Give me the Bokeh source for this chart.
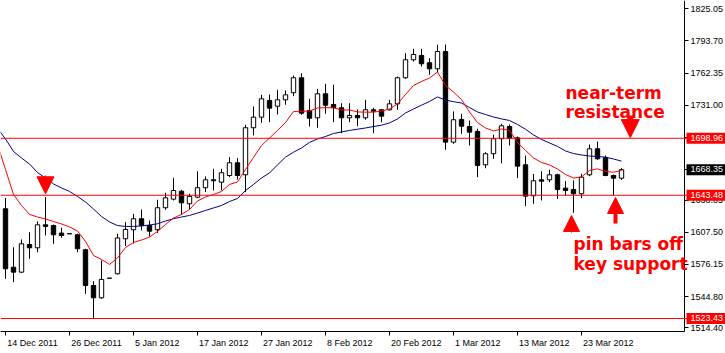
from bokeh.plotting import figure
from bokeh.models import (Range1d, FixedTicker, Span, Label, Arrow, NormalHead,
                          ColumnDataSource, NumeralTickFormatter, LinearAxis)
from bokeh.embed import file_html
from bokeh.resources import INLINE

# ---- data (gold daily, 14 Dec 2011 .. 30 Mar 2012), bar index 0..77 ----
opens = [1630.3, 1573.4, 1568.6, 1595.5, 1592.3, 1614.7, 1614.0, 1606.6, 1606.0, 1605.0,
         1590.4, 1555.6, 1543.6, 1562.7, 1567.0, 1601.1, 1609.9, 1620.6, 1614.0, 1609.9,
         1631.3, 1639.7, 1647.4, 1635.2, 1641.6, 1650.8, 1658.5, 1656.2, 1662.7, 1675.1,
         1663.4, 1709.2, 1719.5, 1735.8, 1730.2, 1736.4, 1743.3, 1757.9, 1726.0, 1718.9,
         1742.3, 1731.9, 1728.7, 1718.9, 1721.2, 1718.9, 1726.7, 1726.7, 1726.7, 1732.5,
         1757.9, 1775.4, 1779.6, 1772.5, 1766.6, 1783.5, 1695.2, 1717.3, 1710.4, 1705.6,
         1673.1, 1683.9, 1698.5, 1710.4, 1699.4, 1673.1, 1643.0, 1658.5, 1658.5, 1663.4,
         1650.4, 1649.1, 1644.9, 1663.4, 1688.7, 1680.1, 1662.7, 1660.1]
highs = [1640.8, 1592.9, 1600.4, 1607.5, 1617.9, 1641.6, 1615.0, 1611.8, 1606.0, 1606.0,
         1591.4, 1559.8, 1580.0, 1562.7, 1606.0, 1617.3, 1625.4, 1629.6, 1618.9, 1639.1,
         1645.9, 1660.5, 1648.8, 1644.9, 1666.9, 1661.8, 1669.2, 1669.2, 1680.6, 1679.6,
         1712.1, 1729.9, 1741.3, 1741.6, 1746.2, 1745.5, 1760.1, 1762.3, 1737.4, 1747.1,
         1752.0, 1751.0, 1733.1, 1733.1, 1727.0, 1736.4, 1728.7, 1727.0, 1736.4, 1759.1,
         1781.8, 1786.1, 1786.1, 1776.9, 1790.0, 1790.3, 1725.1, 1722.8, 1716.3, 1708.2,
         1685.4, 1702.4, 1713.1, 1712.4, 1700.7, 1682.2, 1664.2, 1666.9, 1668.3, 1664.4,
         1657.2, 1657.9, 1664.4, 1692.9, 1695.8, 1682.2, 1663.7, 1669.8]
lows = [1562.1, 1558.8, 1567.6, 1581.6, 1588.0, 1604.3, 1596.2, 1602.1, 1606.0, 1588.0,
        1547.5, 1523.43, 1542.7, 1562.7, 1566.3, 1594.0, 1596.5, 1609.2, 1603.3, 1606.6,
        1629.3, 1638.4, 1624.5, 1629.6, 1640.6, 1646.5, 1648.1, 1648.1, 1661.1, 1658.8,
        1646.5, 1701.7, 1714.0, 1714.6, 1722.1, 1731.6, 1740.0, 1721.8, 1710.4, 1709.2,
        1722.8, 1714.6, 1703.9, 1714.6, 1710.7, 1717.0, 1703.9, 1714.6, 1726.0, 1726.7,
        1756.9, 1773.7, 1768.9, 1760.8, 1763.3, 1687.8, 1693.6, 1703.3, 1691.9, 1661.1,
        1669.8, 1679.0, 1674.7, 1691.9, 1660.1, 1632.8, 1635.2, 1638.4, 1656.2, 1640.0,
        1643.3, 1626.4, 1640.6, 1662.0, 1678.0, 1662.0, 1643.3, 1658.5]
closes = [1571.9, 1568.6, 1596.2, 1592.3, 1614.7, 1613.1, 1605.0, 1604.3, 1606.0, 1591.4,
          1555.6, 1543.6, 1561.5, 1562.7, 1601.9, 1610.2, 1620.6, 1614.0, 1608.5, 1631.3,
          1641.0, 1648.1, 1636.1, 1642.3, 1650.8, 1658.5, 1657.6, 1665.4, 1675.1, 1662.7,
          1709.2, 1719.5, 1737.4, 1728.3, 1736.4, 1741.3, 1757.9, 1723.4, 1718.5, 1742.3,
          1731.2, 1728.7, 1718.9, 1721.2, 1718.9, 1726.7, 1725.3, 1720.5, 1732.5, 1757.9,
          1775.4, 1780.6, 1771.5, 1766.6, 1783.5, 1695.2, 1717.0, 1710.7, 1704.9, 1672.5,
          1683.9, 1698.5, 1711.1, 1699.0, 1671.8, 1642.6, 1657.6, 1657.2, 1663.4, 1649.1,
          1648.1, 1644.9, 1661.1, 1688.7, 1679.0, 1662.7, 1660.1, 1668.35]

# moving averages, starting one bar before the first candle (index -1)
ma_fast = [1692.9, 1668.6, 1644.2, 1633.5, 1624.8, 1622.3, 1620.4, 1617.9, 1615.5, 1612.6,
           1608.7, 1598.5, 1584.8, 1580.9, 1576.1, 1582.4, 1592.6, 1597.5, 1599.9, 1602.8,
           1608.2, 1615.0, 1621.3, 1624.8, 1629.6, 1637.9, 1641.8, 1644.2, 1647.2, 1654.0,
           1656.4, 1668.6, 1680.3, 1691.9, 1699.2, 1706.6, 1714.3, 1725.0, 1725.3, 1725.5,
           1728.5, 1728.7, 1728.7, 1726.5, 1726.5, 1724.6, 1724.4, 1724.4, 1725.5, 1727.5,
           1732.4, 1741.6, 1750.4, 1754.3, 1757.7, 1763.5, 1750.4, 1744.0, 1736.7, 1724.6,
           1714.3, 1709.0, 1706.1, 1708.0, 1706.6, 1694.8, 1687.1, 1679.8, 1675.4, 1673.0,
           1669.0, 1663.7, 1660.3, 1661.3, 1667.6, 1669.2, 1666.6, 1665.9, 1667.6]
ma_slow = [1708.5, 1698.3, 1686.1, 1679.8, 1673.9, 1665.6, 1660.3, 1654.5, 1650.6, 1647.2,
           1642.3, 1636.9, 1630.1, 1622.8, 1617.5, 1614.0, 1613.1, 1613.1, 1613.6, 1614.5,
           1615.7, 1618.4, 1620.6, 1622.3, 1623.8, 1626.2, 1628.7, 1631.1, 1633.5, 1637.4,
           1640.3, 1648.1, 1654.0, 1660.3, 1665.2, 1673.0, 1680.6, 1685.4, 1689.5, 1694.9,
           1698.3, 1700.7, 1703.6, 1705.1, 1706.6, 1707.8, 1709.0, 1710.4, 1711.7, 1713.9,
           1717.8, 1723.6, 1727.5, 1731.2, 1734.8, 1739.2, 1736.2, 1734.6, 1733.3, 1728.9,
           1724.6, 1722.1, 1719.7, 1717.8, 1716.3, 1712.4, 1707.8, 1702.2, 1697.8, 1694.4,
           1691.0, 1686.6, 1684.1, 1682.7, 1681.7, 1681.2, 1680.6, 1678.8, 1676.7]

x_tick_index = [0, 8, 16, 24, 32, 40, 48, 56, 64, 72]
x_tick_labels = ["14 Dec 2011", "26 Dec 2011", "5 Jan 2012", "17 Jan 2012", "27 Jan 2012",
                 "8 Feb 2012", "20 Feb 2012", "1 Mar 2012", "13 Mar 2012", "23 Mar 2012"]
y_ticks = [1825.05, 1793.70, 1762.35, 1731.00, 1699.65, 1668.30, 1638.85, 1607.50,
           1576.15, 1544.80, 1514.40]

levels = [1698.96, 1643.48, 1523.43]
level_tag_colors = ["#FF0000", "#FF0000", "#FF0000"]
last_price = 1668.35

# annotations (bar index, price)
notes = [("near-term", 70.0, 1742.9), ("resistance", 70.0, 1724.4),
         ("pin bars off", 71.0, 1595.6), ("key support", 71.0, 1577.0)]
# arrows: x, tail price, tip price, head size, shaft width
arrows = [(5.0, 1662.7, 1644.9, 17, 1),
          (78.1, 1721.2, 1699.6, 18, 6),
          (70.75, 1607.2, 1623.8, 16, 1),
          (76.25, 1616.0, 1641.3, 16, 4)]

# ---- geometry ----
W, H = 725, 353
PLOT_H = 331               # height of the price area in pixels
BAR_PX = 8                 # pixels per bar
X0 = -0.625                # left edge (bar index)
AXIS_X = 84.875            # where the price axis sits (bar index)
Y_AXIS, Y1 = 1510.8, 1833.13
Y_BOTTOM = Y_AXIS - (H - PLOT_H) * (Y1 - Y_AXIS) / PLOT_H
FONT = "Liberation Sans"
FS = 9

p = figure(width=W, height=H, output_backend="svg", toolbar_location=None,
           x_range=Range1d(X0, X0 + W / BAR_PX), y_range=Range1d(Y_BOTTOM, Y1),
           y_axis_location="right", min_border_left=0, min_border_top=0,
           min_border_right=0, min_border_bottom=0)
p.outline_line_color = None
p.grid.visible = False
p.background_fill_color = "white"
p.border_fill_color = "white"

n = len(opens)
idx = list(range(n))
src = ColumnDataSource(dict(
    x=idx, h=highs, l=lows,
    top=[max(o, c) for o, c in zip(opens, closes)],
    bottom=[min(o, c) for o, c in zip(opens, closes)],
    fill=["white" if c >= o else "black" for o, c in zip(opens, closes)],
))

for lv in levels:
    p.add_layout(Span(location=lv, dimension="width", line_color="#FF0000", line_width=1))

p.segment("x", "h", "x", "l", source=src, line_color="black", line_width=1)
p.vbar(x="x", width=0.55, top="top", bottom="bottom", fill_color="fill",
       line_color="black", line_width=1, source=src)

ma_x = list(range(-1, n))
p.line(ma_x, ma_slow, line_color="#000080", line_width=1)
p.line(ma_x, ma_fast, line_color="#FF0000", line_width=1)


def style_axis(ax):
    ax.axis_line_color = "black"
    ax.major_tick_line_color = "black"
    ax.minor_tick_line_color = None
    ax.major_tick_out = 4
    ax.major_tick_in = 0
    ax.major_label_text_font = FONT
    ax.major_label_text_font_size = f"{FS}px"
    ax.major_label_text_color = "black"
    ax.major_label_standoff = 2


# price axis, drawn at the right edge of the chart area
yax = p.yaxis[0]
style_axis(yax)
yax.fixed_location = AXIS_X
yax.bounds = (Y_AXIS, Y1)
yax.ticker = FixedTicker(ticks=y_ticks)
yax.formatter = NumeralTickFormatter(format="0.00")

# date axis: tick marks at the bars
xax = p.xaxis[0]
style_axis(xax)
xax.fixed_location = Y_AXIS
xax.bounds = (X0, AXIS_X)
xax.ticker = FixedTicker(ticks=x_tick_index)
xax.major_label_text_color = None

# date labels start just right of their tick (MetaTrader style)
ARIAL_EM = {"0": .556, "1": .556, "2": .556, "3": .556, "4": .556, "5": .556, "6": .556,
            "7": .556, "8": .556, "9": .556, " ": .278, "D": .722, "J": .5, "F": .611,
            "M": .833, "e": .556, "c": .5, "a": .556, "n": .556, "b": .556, "r": .333}


def text_px(s):
    return sum(ARIAL_EM.get(ch, .556) for ch in s) * FS


label_pos = [round(t + (text_px(s) / 2 + 1.5) / BAR_PX, 4)
             for t, s in zip(x_tick_index, x_tick_labels)]
xlab = LinearAxis(fixed_location=Y_AXIS, ticker=FixedTicker(ticks=label_pos))
style_axis(xlab)
xlab.axis_line_color = None
xlab.major_tick_line_color = None
xlab.major_label_standoff = 2
xlab.major_label_overrides = {pos: s for pos, s in zip(label_pos, x_tick_labels)}
p.add_layout(xlab, "below")

# price tags on the axis
tags = [(v, c) for v, c in zip(levels, level_tag_colors)] + [(last_price, "black")]
for v, c in tags:
    p.add_layout(Label(x=AXIS_X, y=v, text=f"{v:.2f}", text_align="left",
                       text_baseline="middle", x_offset=2, text_color="white",
                       text_font=FONT, text_font_size=f"{FS}px",
                       background_fill_color=c,
                       padding=dict(left=4, right=6, top=2, bottom=3)))

for txt, xi, yv in notes:
    p.add_layout(Label(x=xi, y=yv, text=txt, text_align="left", text_baseline="alphabetic",
                       text_color="#FF0000", text_font="DejaVu Sans", text_font_style="bold",
                       text_font_size="17px"))

for xa, ys, ye, hs, lw in arrows:
    p.add_layout(Arrow(end=NormalHead(size=hs, fill_color="#FF0000", line_color="#FF0000"),
                       x_start=xa, y_start=ys, x_end=xa, y_end=ye,
                       line_color="#FF0000", line_width=lw))

open("out.html", "w").write(file_html(p, INLINE))
